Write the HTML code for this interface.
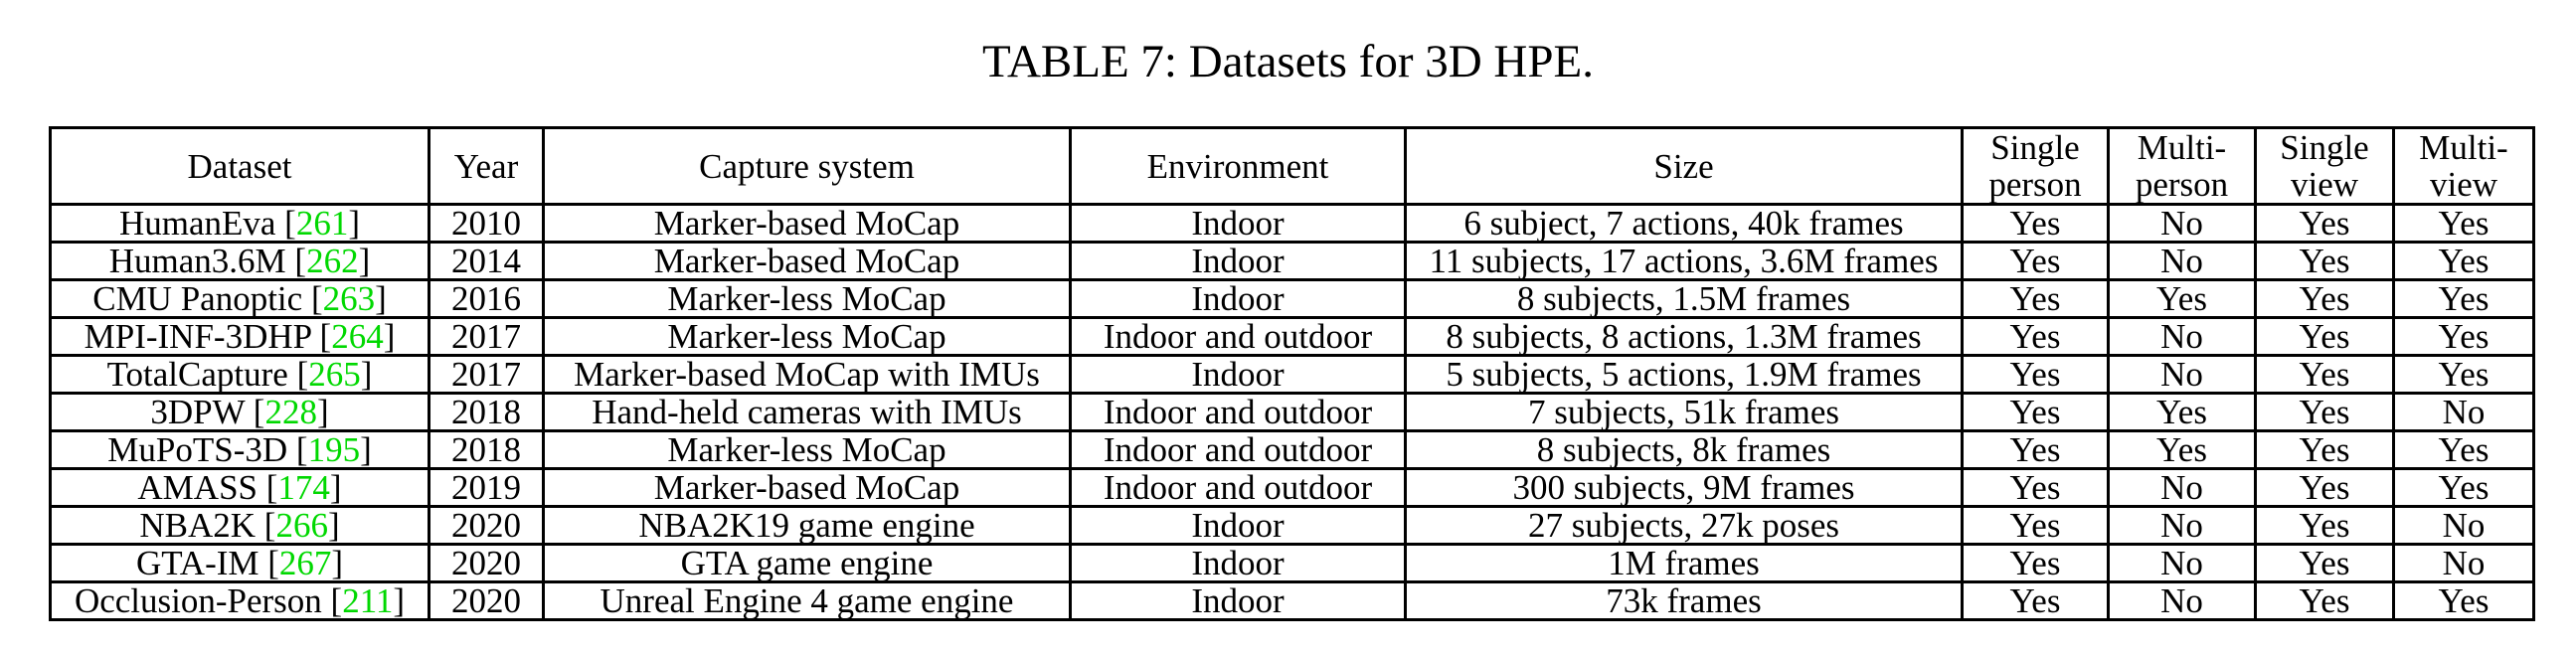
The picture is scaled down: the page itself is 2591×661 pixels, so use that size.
<!DOCTYPE html>
<html><head><meta charset="utf-8"><style>
html,body{margin:0;padding:0;background:#fff;width:2591px;height:661px;overflow:hidden}
body{position:relative;font-family:"Liberation Serif",serif;color:#000}
#title{position:absolute;left:0;width:2591px;top:36px;text-align:center;font-size:47px;line-height:52px}
table{position:absolute;left:49px;top:127px;border-collapse:collapse;table-layout:fixed;width:2500px;font-size:35px}
td,th{border:3px solid #000;padding:0;text-align:center;font-weight:normal;white-space:nowrap;overflow:hidden}
td{height:34px;line-height:34px;padding-top:1px}
th{height:69px;line-height:37px}
.r{color:#00d800}
</style></head><body>
<div id="title">TABLE 7: Datasets for 3D HPE.</div>
<table>
<colgroup><col style="width:381px"><col style="width:115px"><col style="width:530px"><col style="width:337px"><col style="width:560px"><col style="width:147px"><col style="width:148px"><col style="width:139px"><col style="width:141px"></colgroup>
<tr>
<th>Dataset</th>
<th>Year</th>
<th>Capture system</th>
<th>Environment</th>
<th>Size</th>
<th>Single<br>person</th>
<th>Multi-<br>person</th>
<th>Single<br>view</th>
<th>Multi-<br>view</th>
</tr>
<tr><td>HumanEva [<span class="r">261</span>]</td><td>2010</td><td>Marker-based MoCap</td><td>Indoor</td><td>6 subject, 7 actions, 40k frames</td><td>Yes</td><td>No</td><td>Yes</td><td>Yes</td></tr>
<tr><td>Human3.6M [<span class="r">262</span>]</td><td>2014</td><td>Marker-based MoCap</td><td>Indoor</td><td>11 subjects, 17 actions, 3.6M frames</td><td>Yes</td><td>No</td><td>Yes</td><td>Yes</td></tr>
<tr><td>CMU Panoptic [<span class="r">263</span>]</td><td>2016</td><td>Marker-less MoCap</td><td>Indoor</td><td>8 subjects, 1.5M frames</td><td>Yes</td><td>Yes</td><td>Yes</td><td>Yes</td></tr>
<tr><td>MPI-INF-3DHP [<span class="r">264</span>]</td><td>2017</td><td>Marker-less MoCap</td><td>Indoor and outdoor</td><td>8 subjects, 8 actions, 1.3M frames</td><td>Yes</td><td>No</td><td>Yes</td><td>Yes</td></tr>
<tr><td>TotalCapture [<span class="r">265</span>]</td><td>2017</td><td>Marker-based MoCap with IMUs</td><td>Indoor</td><td>5 subjects, 5 actions, 1.9M frames</td><td>Yes</td><td>No</td><td>Yes</td><td>Yes</td></tr>
<tr><td>3DPW [<span class="r">228</span>]</td><td>2018</td><td>Hand-held cameras with IMUs</td><td>Indoor and outdoor</td><td>7 subjects, 51k frames</td><td>Yes</td><td>Yes</td><td>Yes</td><td>No</td></tr>
<tr><td>MuPoTS-3D [<span class="r">195</span>]</td><td>2018</td><td>Marker-less MoCap</td><td>Indoor and outdoor</td><td>8 subjects, 8k frames</td><td>Yes</td><td>Yes</td><td>Yes</td><td>Yes</td></tr>
<tr><td>AMASS [<span class="r">174</span>]</td><td>2019</td><td>Marker-based MoCap</td><td>Indoor and outdoor</td><td>300 subjects, 9M frames</td><td>Yes</td><td>No</td><td>Yes</td><td>Yes</td></tr>
<tr><td>NBA2K [<span class="r">266</span>]</td><td>2020</td><td>NBA2K19 game engine</td><td>Indoor</td><td>27 subjects, 27k poses</td><td>Yes</td><td>No</td><td>Yes</td><td>No</td></tr>
<tr><td>GTA-IM [<span class="r">267</span>]</td><td>2020</td><td>GTA game engine</td><td>Indoor</td><td>1M frames</td><td>Yes</td><td>No</td><td>Yes</td><td>No</td></tr>
<tr><td>Occlusion-Person [<span class="r">211</span>]</td><td>2020</td><td>Unreal Engine 4 game engine</td><td>Indoor</td><td>73k frames</td><td>Yes</td><td>No</td><td>Yes</td><td>Yes</td></tr>
</table>
</body></html>
